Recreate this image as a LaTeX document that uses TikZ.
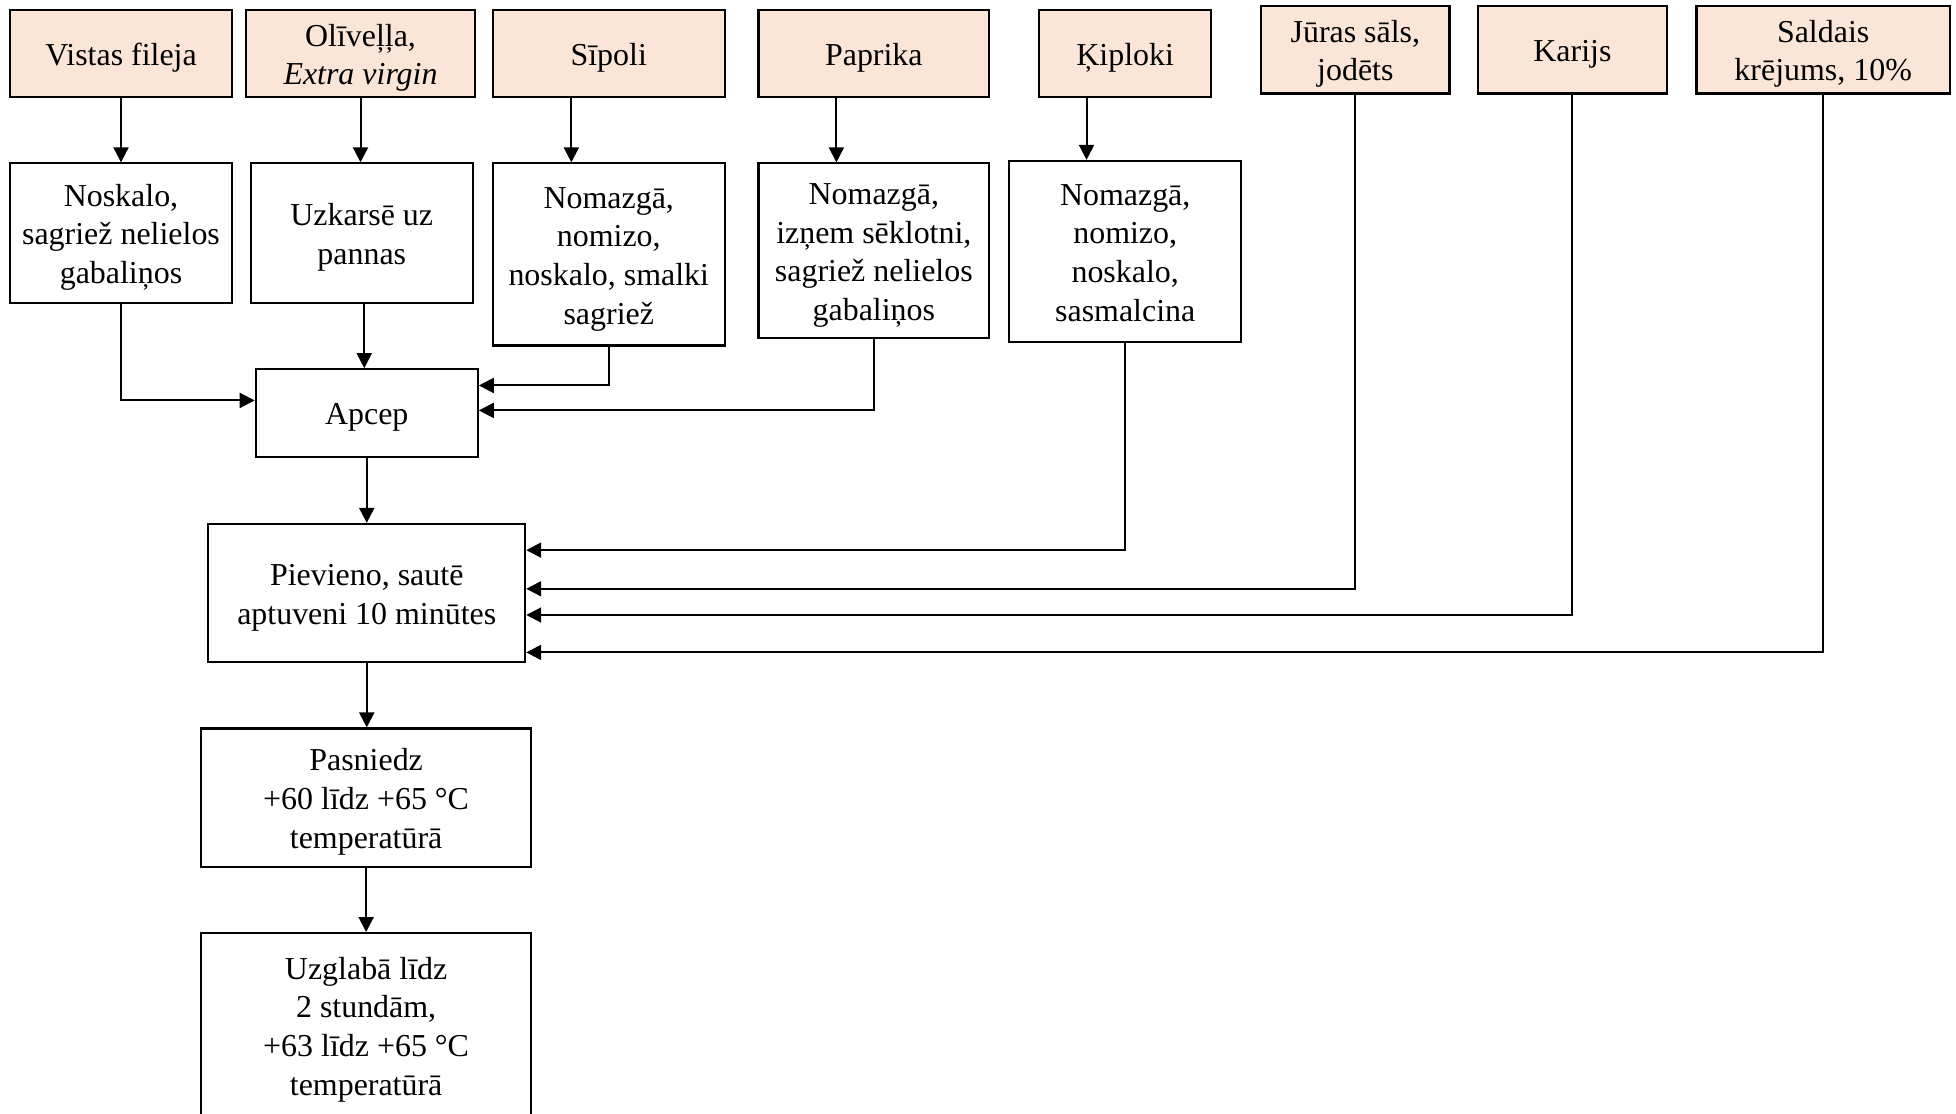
\documentclass[tikz,border=0pt]{standalone}
\usepackage{fontspec}
\setmainfont{Liberation Serif}
\usetikzlibrary{arrows.meta}
\definecolor{peach}{HTML}{FBE5D6}
\newcommand{\txt}[1]{\raisebox{-1.6pt}[\height][\depth]{\begin{tabular}{@{}c@{}}#1\end{tabular}}}
\tikzset{
  box/.style={draw=black, line width=0.85pt, align=center, inner sep=1pt,
    font=\fontsize{12.8pt}{15.5pt}\selectfont},
  ingr/.style={box, fill=peach},
  arr/.style={line width=0.8pt, -{Triangle[length=6pt,width=6pt]}},
}
\begin{document}
\begin{tikzpicture}[x=0.5pt,y=-0.5pt]
\clip (0,0) rectangle (1568,893);
\fill[white] (0,0) rectangle (1568,893);
% ingredients
\node[ingr, minimum width=89pt,  minimum height=35pt] (vf) at (97,43) {\txt{Vistas fileja}};
\node[ingr, minimum width=92pt,  minimum height=35pt] (ol) at (289,43) {\txt{Olīveļļa,\\\textit{Extra virgin}}};
\node[ingr, minimum width=93pt,  minimum height=35pt] (sp) at (488,43) {\txt{Sīpoli}};
\node[ingr, minimum width=92.5pt,minimum height=35pt] (pa) at (700.5,43) {\txt{Paprika}};
\node[ingr, minimum width=69pt,  minimum height=35pt] (ki) at (902,43) {\txt{Ķiploki}};
\node[ingr, minimum width=75.5pt,minimum height=35pt] (js) at (1086.5,40) {\txt{Jūras sāls,\\jodēts}};
\node[ingr, minimum width=75.5pt,minimum height=35pt] (ka) at (1260.5,40) {\txt{Karijs}};
\node[ingr, minimum width=101.5pt,minimum height=35pt] (sk) at (1461.5,40) {\txt{Saldais\\krējums, 10\%}};
% processing
\node[box, minimum width=89pt, minimum height=56pt] (p1) at (97,187) {\txt{Noskalo,\\sagriež nelielos\\gabaliņos}};
\node[box, minimum width=89pt, minimum height=56pt] (p2) at (290,187) {\txt{Uzkarsē uz\\pannas}};
\node[box, minimum width=93pt, minimum height=73pt] (p3) at (488,204) {\txt{Nomazgā,\\nomizo,\\noskalo, smalki\\sagriež}};
\node[box, minimum width=92.5pt, minimum height=70pt] (p4) at (700.5,201) {\txt{Nomazgā,\\izņem sēklotni,\\sagriež nelielos\\gabaliņos}};
\node[box, minimum width=93pt, minimum height=72.5pt] (p5) at (902,201.5) {\txt{Nomazgā,\\nomizo,\\noskalo,\\sasmalcina}};
\node[box, minimum width=89pt, minimum height=35pt] (ap) at (294,331) {\txt{Apcep}};
\node[box, minimum width=127pt, minimum height=55.5pt] (pv) at (294,475.5) {\txt{Pievieno, sautē\\aptuveni 10 minūtes}};
\node[box, minimum width=132.5pt, minimum height=55.5pt] (ps) at (293.5,639.5) {\txt{Pasniedz\\+60 līdz +65 °C\\temperatūrā}};
\node[box, minimum width=132.5pt, minimum height=74pt] (uz) at (293.5,822) {\txt{Uzglabā līdz\\2 stundām,\\+63 līdz +65 °C\\temperatūrā}};
% connectors
\draw[arr] (vf.south) -- (vf.south |- p1.north);
\draw[arr] (ol.south) -- (ol.south |- p2.north);
\draw[arr] ([xshift=-15pt]sp.south) -- ([xshift=-15pt]sp.south |- p3.north);
\draw[arr] ([xshift=-15pt]pa.south) -- ([xshift=-15pt]pa.south |- p4.north);
\draw[arr] ([xshift=-15.5pt]ki.south) -- ([xshift=-15.5pt]ki.south |- p5.north);
\draw[arr] (p1.south) |- ([yshift=5pt]ap.west);
\draw[arr] ([xshift=-1pt]p2.south -| ap.north) -- ([xshift=-1pt]ap.north);
\draw[arr] (p3.south) |- ([yshift=11pt]ap.east);
\draw[arr] (p4.south) |- ([yshift=1pt]ap.east);
\draw[arr] (ap.south) -- (pv.north);
\draw[arr] (p5.south) |- ([yshift=17.25pt]pv.east);
\draw[arr] (js.south) |- ([yshift=1.75pt]pv.east);
\draw[arr] (ka.south) |- ([yshift=-8.75pt]pv.east);
\draw[arr] (sk.south) |- ([yshift=-23.75pt]pv.east);
\draw[arr] (pv.south) -- (pv.south |- ps.north);
\draw[arr] (ps.south) -- (uz.north);
\end{tikzpicture}
\end{document}
